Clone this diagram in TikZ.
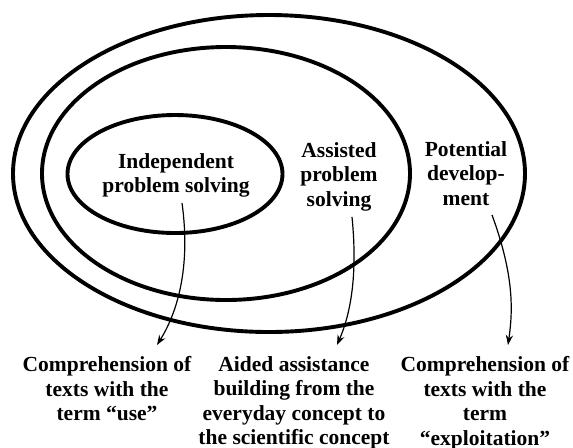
\documentclass[tikz,border=0pt]{standalone}
\usepackage{fontspec}
\setmainfont{Liberation Serif}
\usetikzlibrary{calc,arrows.meta}

\begin{document}
\begin{tikzpicture}[x=0.5pt, y=-0.5pt,
  ring/.style={line width=1.95pt, black},
  label/.style={align=center, inner sep=0pt, anchor=north,
    font=\bfseries\fontsize{10.75}{12.25}\selectfont},
  pointer/.style={line width=0.6pt, -{Stealth[length=5pt,width=3.6pt]}}]

  % canvas
  \useasboundingbox (0,0) rectangle (573,447);

  % nested zones
  \draw[ring] (269,173.5) ellipse [x radius=256, y radius=158.5];
  \draw[ring] (226,173.5) ellipse [x radius=184, y radius=126.5];
  \draw[ring] (175,174) ellipse [x radius=107.5, y radius=59];

  % zone labels
  \node[label] (ind) at (176,153) {Independent\\problem solving};
  \node[label] (asst) at (339,142) {Assisted\\problem\\solving};
  \node[label] (pot) at (466,141) {Potential\\develop-\\ment};

  % outcome labels
  \node[label] (use) at (107,356) {Comprehension of\\texts with the\\term “use”};
  \node[label] (aid) at (294,356) {Aided assistance\\building from the\\everyday concept to\\the scientific concept};
  \node[label] (expl) at (485,356) {Comprehension of\\texts with the\\term\\“exploitation”};

  % connectors
  \draw[pointer] ($(ind.south)+(6,5)$) .. controls +(9,65) and +(20,-32) .. ($(use.north)+(50,-11)$);
  \draw[pointer] ($(asst.south)+(13,5.5)$) .. controls +(6,60) and +(13,-30) .. ($(aid.north)+(43,-11)$);
  \draw[pointer] ($(pot.south)+(26,9)$) .. controls +(22,60) and +(5,-35) .. ($(expl.north)+(23,-11)$);
\end{tikzpicture}
\end{document}
